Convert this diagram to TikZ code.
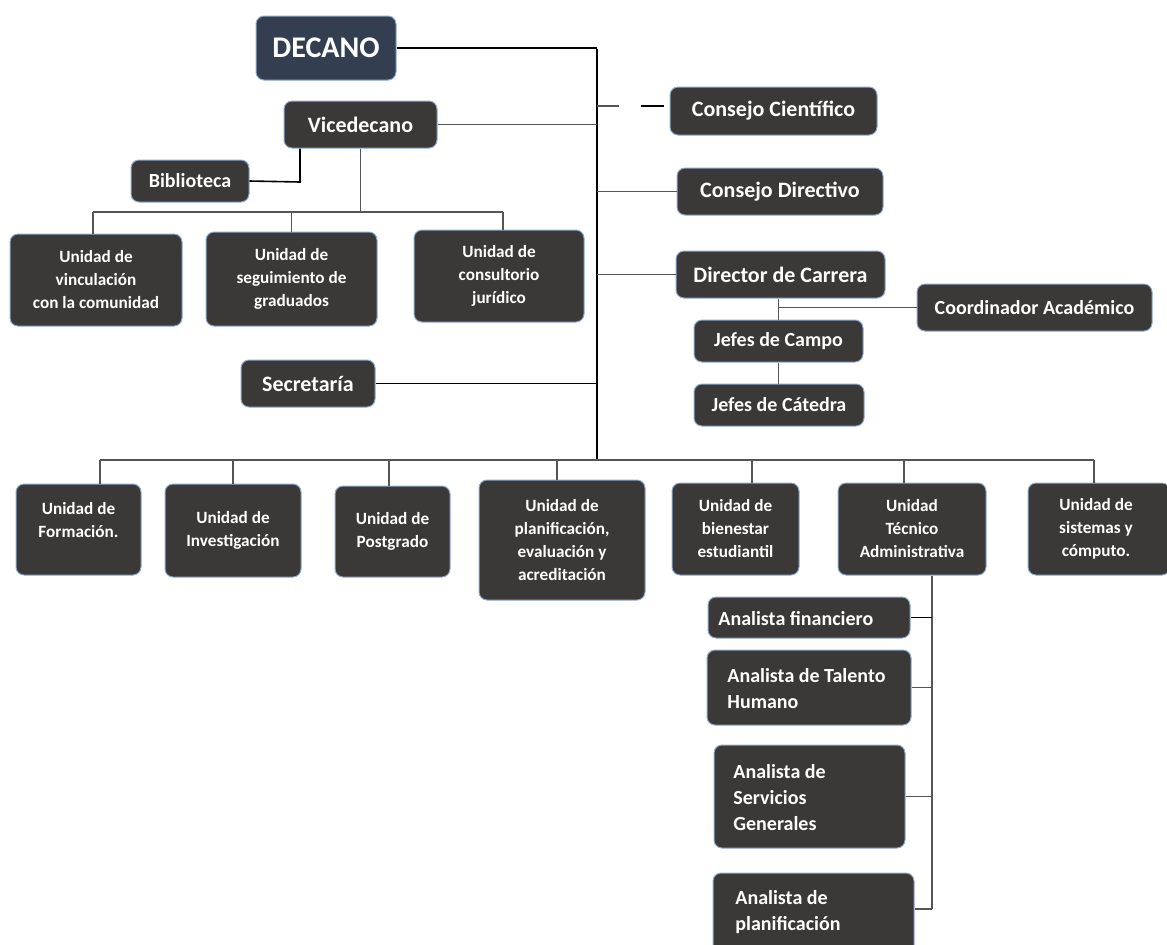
\documentclass[tikz,border=0pt]{standalone}
\usepackage{fontspec}
\setmainfont{Carlito}
\definecolor{boxfill}{HTML}{3B3838}
\definecolor{decfill}{HTML}{333F50}
\definecolor{boxline}{HTML}{8FAACC}
\definecolor{conn}{HTML}{555555}
\newcommand\orgbox[7][]{%
  \pgfmathsetmacro\obxw{(#5-#3)*0.5}%
  \pgfmathsetmacro\obxh{(#6-#4)*0.5}%
  \node[box,#1,minimum width=\obxw pt,minimum height=\obxh pt] (#2) at ({(#3+#5)/2},{(#4+#6)/2}) {#7};}
\begin{document}
\begin{tikzpicture}[x=0.5pt,y=-0.5pt,
  box/.style={draw=boxline, line width=0.5pt, fill=boxfill, rounded corners=4pt,
    inner sep=0pt, text=white, align=center},
  fbig/.style={font=\bfseries\fontsize{15}{18}\selectfont},
  fmid/.style={font=\bfseries\fontsize{11}{13}\selectfont},
  fsm/.style={font=\bfseries\fontsize{10}{13}\selectfont},
  funit/.style={font=\bfseries\fontsize{8.6}{11.5}\selectfont},
  lbl/.style={text=white, anchor=west, align=left, inner sep=0pt, font=\bfseries\fontsize{10}{13}\selectfont},
  ctr/.style={text=white, align=center, inner sep=0pt},
  ln/.style={draw=conn, line width=0.8pt},
  lnk/.style={draw=black, line width=0.8pt}]
\useasboundingbox (0,0) rectangle (1167,944);

% top level
\orgbox[fill=decfill, fbig]{dec}{256}{16}{396}{80}{DECANO}
\orgbox[fmid]{vice}{284}{101}{437}{148}{Vicedecano}
\orgbox[fsm]{bib}{131}{160}{249}{202}{Biblioteca}
\orgbox[funit]{u1}{10}{234}{182}{326}{Unidad de\\vinculación\\con la comunidad}
\orgbox[funit]{u2}{206}{232}{377}{326}{Unidad de\\seguimiento de\\graduados}
\orgbox[funit]{u3}{414}{230}{584}{322}{Unidad de\\consultorio\\jurídico}
\orgbox[fmid]{sec}{241}{360}{375}{407}{Secretaría}

% right column
\orgbox[fmid]{cc}{670}{87}{877}{135}{Consejo Científico}
\orgbox[fmid]{cd}{677}{168}{883}{215}{Consejo Directivo}
\orgbox[fmid]{dir}{676}{251}{885}{298}{Director de Carrera}
\orgbox[fsm]{coord}{917}{284}{1152}{331}{Coordinador Académico}
\orgbox[fsm]{campo}{694}{320}{863}{362}{Jefes de Campo}
\orgbox[fsm]{cat}{694}{384}{864}{426}{Jefes de Cátedra}

% bottom row
\orgbox{b1}{16}{484}{141}{575}{}
\node[ctr, funit] (b1t) at (78.5,520) {Unidad de\\Formación.};
\orgbox[funit]{b2}{165}{484}{301}{577}{Unidad de\\Investigación}
\orgbox[funit]{b3}{335}{486}{450}{577}{Unidad de\\Postgrado}
\orgbox[funit]{b4}{479}{480}{645}{600}{Unidad de\\planificación,\\evaluación y\\acreditación}
\orgbox[funit]{b5}{672}{483}{799}{575}{Unidad de\\bienestar\\estudiantil}
\orgbox[funit]{b6}{838}{483}{986}{575}{Unidad\\Técnico\\Administrativa}
\orgbox{b7}{1028}{483}{1170}{575}{}
\node[ctr, funit] (b7t) at (1096,529) {Unidad de\\sistemas y\\cómputo.};

% analysts
\orgbox{a1}{708}{597}{910}{638}{}
\node[lbl] (a1t) at (718,619) {Analista financiero};
\orgbox{a2}{707}{650}{911}{725}{}
\node[lbl] (a2t) at (727,689) {Analista de Talento\\Humano};
\orgbox{a3}{714}{745}{905}{848}{}
\node[lbl] (a3t) at (733,798) {Analista de\\Servicios\\Generales};
\orgbox{a4}{713}{873}{914}{955}{}
\node[lbl] (a4t) at (735,912) {Analista de\\planificación};

% connectors
\coordinate (t0) at (597,49);
\coordinate (tb) at (597,460);
\draw[lnk] (dec.east) -- (dec.east -| t0);
\draw[lnk] (t0) -- (tb);
\draw[ln] (vice.east) -- (vice.east -| t0);
\coordinate (ccA) at (619,106);
\coordinate (ccB) at (641,106);
\coordinate (ccC) at (664,106);
\draw[ln] (ccA -| t0) -- (ccA);
\draw[lnk] (ccB) -- (ccC);
\draw[ln] (cd.west) -- (cd.west -| t0);
\draw[ln] (dir.west) -- (dir.west -| t0);
\draw[lnk] (sec.east) -- (sec.east -| t0);

% director branch
\draw[ln] (campo.north |- dir.south) -- (campo.north);
\draw[ln] (coord.west) -- (coord.west -| campo.north);
\draw[ln] (campo.south) -- (campo.south |- cat.north);

% vicedecano branch
\coordinate (bv) at (300,182);
\draw[lnk] (bib.east) -- (bv) -- (bv |- vice.south);
\coordinate (vbl) at (93,212);
\coordinate (vbr) at (503,212);
\draw[ln] (vice.south) -- (vice.south |- vbl);
\draw[ln] (vbl) -- (vbr);
\draw[ln] (vbl) -- (u1.north -| vbl);
\draw[ln] (u2.north |- vbl) -- (u2.north);
\draw[ln] (vbr) -- (u3.north -| vbr);

% bottom bar
\coordinate (bl) at (100,460);
\coordinate (br) at (1094,460);
\draw[ln] (bl) -- (br);
\foreach \n/\x in {b1/100,b2/233,b3/389,b4/557,b5/752,b6/904,b7/1094}
  \draw[ln] (\x,460) -- (\n.north -| \x,0);

% tecnico branch
\coordinate (tv) at (932,909);
\draw[ln] (b6.south -| tv) -- (tv);
\draw[lnk] (a1.east) -- (a1.east -| tv);
\draw[ln] (a2.east) -- (a2.east -| tv);
\draw[ln] (a3.east) -- (a3.east -| tv);
\draw[ln] (tv) -- (tv -| a4.east);
\end{tikzpicture}
\end{document}
